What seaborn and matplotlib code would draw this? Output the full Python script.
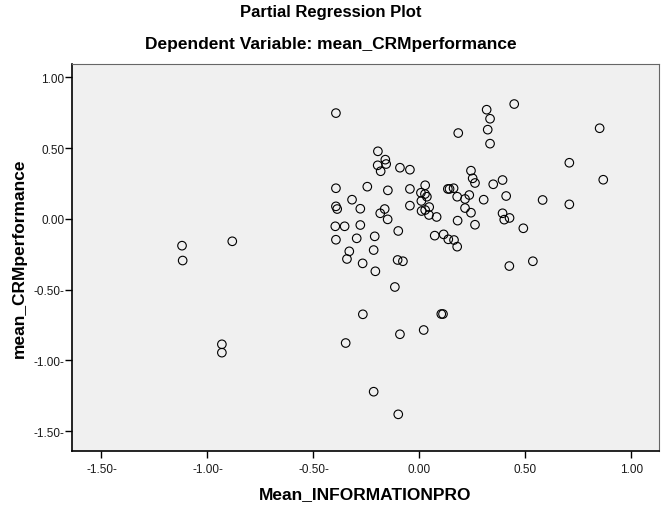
import matplotlib
matplotlib.use("Agg")
import matplotlib.pyplot as plt
import seaborn as sns
import pandas as pd

# Partial regression residuals: predictor (x) vs. outcome (y)
info_pro = [
    -1.120, -1.117, -0.883, -0.932, -0.932,
    -0.394, 0.183, -0.196, -0.161, -0.157, -0.197, -0.183, -0.092, -0.045,
    0.243, 0.251, 0.262, -0.394, -0.246, -0.149, -0.045, 0.027, 0.007,
    0.026, 0.035, 0.134, 0.142, 0.161, 0.178, 0.235, 0.215, -0.318, 0.009,
    -0.394, -0.388, -0.279, -0.164, -0.185, -0.150, -0.045, 0.010, 0.027,
    0.046, 0.045, 0.081, 0.180, 0.215, 0.243, 0.262, -0.397, -0.353, -0.279,
    -0.100, -0.394, -0.296, -0.211, -0.216, -0.331, -0.342, -0.268, -0.208,
    -0.103, -0.078, -0.116, 0.072, 0.114, 0.136, 0.163, 0.178, -0.267,
    0.103, 0.111, -0.092, 0.020, -0.348, -0.216, -0.100,
    0.447, 0.317, 0.333, 0.322, 0.333, 0.850, 0.707, 0.392, 0.867, 0.348,
    0.303, 0.409, 0.581, 0.707, 0.392, 0.400, 0.425, 0.490, 0.535, 0.424,
]
crm_perf = [
    -0.190, -0.295, -0.159, -0.887, -0.946,
    0.747, 0.606, 0.477, 0.418, 0.387, 0.378, 0.336, 0.361, 0.347,
    0.340, 0.286, 0.253, 0.216, 0.227, 0.201, 0.211, 0.237, 0.184,
    0.175, 0.156, 0.211, 0.211, 0.216, 0.156, 0.168, 0.140, 0.135, 0.126,
    0.088, 0.069, 0.071, 0.069, 0.039, -0.004, 0.093, 0.055, 0.062,
    0.083, 0.027, 0.013, -0.013, 0.076, 0.043, -0.042, -0.053, -0.053, -0.044,
    -0.086, -0.148, -0.138, -0.124, -0.221, -0.230, -0.284, -0.315, -0.371,
    -0.291, -0.300, -0.482, -0.119, -0.110, -0.145, -0.150, -0.197, -0.675,
    -0.673, -0.673, -0.816, -0.786, -0.878, -1.222, -1.382,
    0.811, 0.771, 0.707, 0.630, 0.531, 0.640, 0.396, 0.274, 0.276, 0.244,
    0.135, 0.161, 0.133, 0.102, 0.039, -0.006, 0.006, -0.067, -0.300, -0.334,
]

x_ticks = [-1.5, -1.0, -0.5, 0.0, 0.5, 1.0]
x_tick_labels = ["-1.50-", "-1.00-", "-0.50-", "0.00", "0.50", "1.00"]
y_ticks = [1.0, 0.5, 0.0, -0.5, -1.0, -1.5]
y_tick_labels = ["1.00", "0.50", "0.00", "-0.50-", "-1.00-", "-1.50-"]

df = pd.DataFrame({"Mean_INFORMATIONPRO": info_pro,
                   "mean_CRMperformance": crm_perf})

sns.set_style("white")
plt.rcParams["font.family"] = ["Liberation Sans", "DejaVu Sans"]
plt.rcParams["text.color"] = "black"
plt.rcParams["axes.labelcolor"] = "black"

W, H = 661, 506
left, right, top, bottom = 72, 659, 65, 451.7
fig = plt.figure(figsize=(W / 100, H / 100), dpi=100)
ax = fig.add_axes([left / W, 1 - bottom / H, (right - left) / W, (bottom - top) / H])
ax.set_facecolor("#f0f0f0")

sns.scatterplot(data=df, x="Mean_INFORMATIONPRO", y="mean_CRMperformance",
                ax=ax, marker="o", s=38, facecolor="none",
                edgecolor="black", linewidth=0.8)

ax.set_xlim(-1.639, 1.13)
ax.set_ylim(-1.639, 1.094)
ax.set_xticks(x_ticks)
ax.set_xticklabels(x_tick_labels)
ax.set_yticks(y_ticks)
ax.set_yticklabels(y_tick_labels)
ax.tick_params(axis="both", direction="out", length=5, width=1, colors="black",
               labelsize=8.5, labelcolor="#1a1a1a", pad=0.5)
ax.tick_params(axis="x", pad=4)
ax.xaxis.set_ticks_position("bottom")
ax.yaxis.set_ticks_position("left")

for side in ["left", "bottom"]:
    ax.spines[side].set_color("black")
    ax.spines[side].set_linewidth(1.2)
for side in ["top", "right"]:
    ax.spines[side].set_color("#666666")
    ax.spines[side].set_linewidth(0.8)

ax.set_xlabel("Mean_INFORMATIONPRO", fontsize=12.5, fontweight="bold",
              labelpad=8, color="black")
ax.set_ylabel("mean_CRMperformance", fontsize=12.5, fontweight="bold",
              labelpad=5, color="black")

fig.text(0.5, 1 - 13 / H, "Partial Regression Plot", ha="center", va="center",
         fontsize=12, fontweight="bold", color="black")
fig.text(0.5, 1 - 45 / H, "Dependent Variable: mean_CRMperformance",
         ha="center", va="center", fontsize=12.5, fontweight="bold", color="black")

fig.savefig("out.png", dpi=100, facecolor="white")
